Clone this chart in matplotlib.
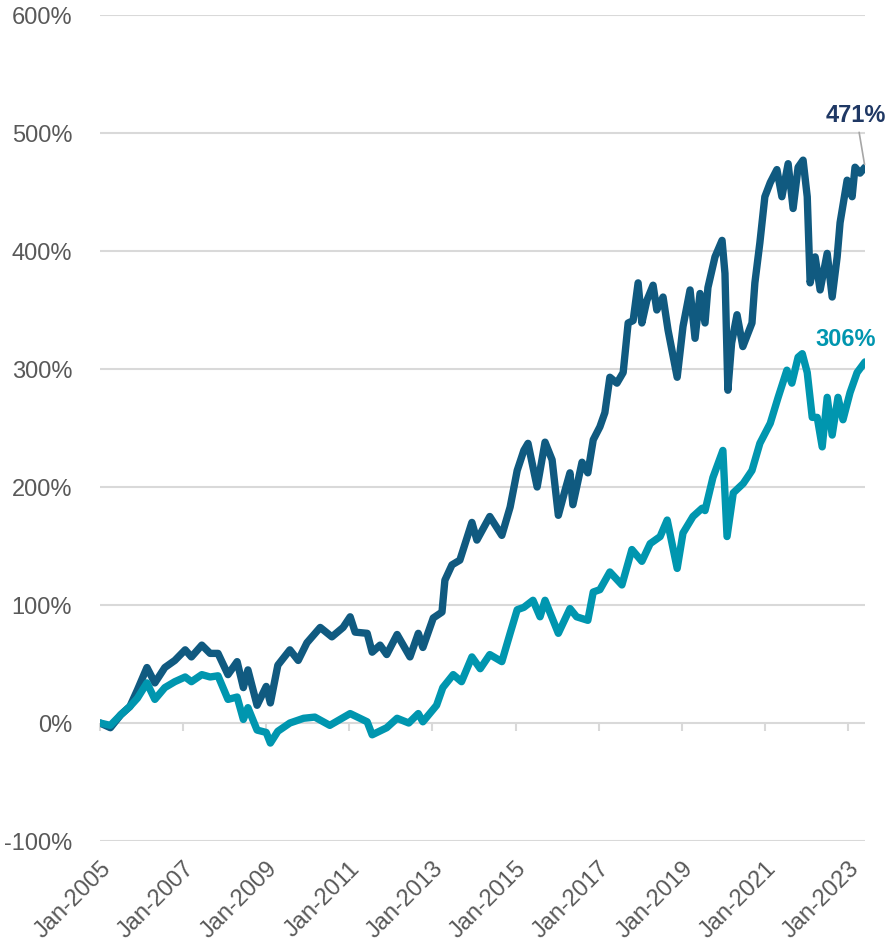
import matplotlib
matplotlib.use("Agg")
import matplotlib.pyplot as plt

# cumulative return (%), x in decimal years
years_a = [2005.0, 2005.25, 2005.5, 2005.72, 2005.9, 2006.13, 2006.32, 2006.56, 2006.8,
           2007.05, 2007.2, 2007.45, 2007.65, 2007.84, 2008.08, 2008.3, 2008.45, 2008.56,
           2008.78, 2009.0, 2009.1, 2009.28, 2009.57, 2009.77, 2009.98, 2010.3, 2010.58,
           2010.85, 2011.02, 2011.14, 2011.43, 2011.55, 2011.74, 2011.9, 2012.15, 2012.46,
           2012.66, 2012.77, 2013.02, 2013.23, 2013.3, 2013.47, 2013.66, 2013.95, 2014.07,
           2014.38, 2014.67, 2014.87, 2015.04, 2015.2, 2015.3, 2015.52, 2015.71, 2015.88,
           2016.03, 2016.19, 2016.31, 2016.38, 2016.6, 2016.74, 2016.87, 2017.03, 2017.15,
           2017.27, 2017.44, 2017.59, 2017.71, 2017.83, 2017.95, 2018.04, 2018.16, 2018.31,
           2018.4, 2018.55, 2018.67, 2018.89, 2019.03, 2019.2, 2019.32, 2019.44, 2019.56,
           2019.63, 2019.8, 2019.97, 2020.04, 2020.11, 2020.2, 2020.33, 2020.47, 2020.69,
           2020.76, 2020.88, 2021.0, 2021.13, 2021.29, 2021.41, 2021.56, 2021.68, 2021.8,
           2021.92, 2022.02, 2022.09, 2022.21, 2022.33, 2022.5, 2022.62, 2022.74, 2022.81,
           2022.98, 2023.1, 2023.17, 2023.29, 2023.41]
vals_a = [0, -4, 7, 14, 28, 47, 34, 47, 53,
          62, 56, 66, 59, 59, 41, 52, 30, 45,
          15, 31, 17, 49, 62, 53, 68, 81, 73,
          81, 90, 77, 76, 60, 66, 58, 75, 56,
          76, 64, 89, 94, 121, 134, 138, 170, 155,
          175, 159, 183, 214, 231, 237, 200, 238, 223,
          176, 197, 212, 185, 221, 212, 240, 251, 263,
          293, 288, 297, 339, 341, 373, 339, 358, 371,
          350, 361, 333, 293, 336, 367, 326, 364, 339,
          369, 395, 409, 381, 282, 322, 346, 319, 339,
          373, 407, 446, 458, 469, 446, 474, 436, 471,
          477, 446, 373, 395, 367, 398, 361, 395, 424,
          460, 446, 471, 466, 471]

years_b = [2005.0, 2005.25, 2005.5, 2005.72, 2005.9, 2006.13, 2006.32, 2006.56, 2006.8,
           2007.05, 2007.2, 2007.45, 2007.65, 2007.84, 2008.08, 2008.3, 2008.45, 2008.56,
           2008.78, 2009.0, 2009.1, 2009.28, 2009.57, 2009.9, 2010.17, 2010.53, 2011.02,
           2011.43, 2011.55, 2011.9, 2012.15, 2012.43, 2012.66, 2012.77, 2013.1, 2013.25,
           2013.5, 2013.7, 2013.95, 2014.15, 2014.38, 2014.67, 2014.87, 2015.04, 2015.2,
           2015.42, 2015.59, 2015.71, 2016.03, 2016.31, 2016.47, 2016.74, 2016.87, 2017.03,
           2017.27, 2017.56, 2017.8, 2018.04, 2018.24, 2018.48, 2018.65, 2018.89, 2019.03,
           2019.27, 2019.49, 2019.56, 2019.75, 2019.99, 2020.09, 2020.24, 2020.48, 2020.69,
           2020.88, 2021.13, 2021.32, 2021.53, 2021.65, 2021.8, 2021.9, 2022.02, 2022.14,
           2022.26, 2022.38, 2022.5, 2022.62, 2022.76, 2022.88, 2023.05, 2023.22, 2023.41]
vals_b = [0, -2, 7, 14, 21, 34, 20, 30, 35,
          39, 35, 41, 39, 40, 20, 22, 3, 13,
          -6, -8, -17, -7, 0, 4, 5, -2, 8,
          1, -10, -4, 4, 0, 8, 1, 15, 30,
          41, 35, 56, 46, 58, 52, 76, 96, 98,
          104, 90, 104, 76, 97, 90, 87, 111, 113,
          128, 117, 147, 137, 152, 158, 172, 131, 161,
          175, 182, 180, 208, 231, 158, 195, 203, 214,
          237, 254, 276, 299, 288, 310, 313, 297, 259,
          259, 234, 276, 244, 276, 257, 280, 297, 306]

tick_years = [2005, 2007, 2009, 2011, 2013, 2015, 2017, 2019, 2021, 2023]
tick_labels = ["Jan-" + str(y) for y in tick_years]
y_ticks = [-100, 0, 100, 200, 300, 400, 500, 600]

dark = "#105A80"
teal = "#0096AF"
grey_txt = "#595959"

plt.rcParams["font.family"] = ["Liberation Sans", "DejaVu Sans"]

fig = plt.figure(figsize=(8.89, 9.44), dpi=100)
ax = fig.add_axes([100 / 889, 1 - 841 / 944, 765 / 889, 826 / 944])

ax.plot(years_a, vals_a, color=dark, lw=5.3, solid_joinstyle="round", solid_capstyle="round", zorder=3)
ax.plot(years_b, vals_b, color=teal, lw=5.3, solid_joinstyle="round", solid_capstyle="round", zorder=4)

ax.set_xlim(2005.0, 2023.41)
ax.set_ylim(-100, 600)
ax.set_yticks(y_ticks)
ax.set_yticklabels([f"{v}%" for v in y_ticks])
ax.yaxis.grid(True, color="#D9D9D9", lw=1.5)
ax.set_axisbelow(True)
for s in ax.spines.values():
    s.set_visible(False)

ax.set_xticks(tick_years)
ax.set_xticklabels(tick_labels, rotation=45, ha="right", rotation_mode="anchor")
ax.tick_params(axis="x", length=0, pad=12, labelsize=17, labelcolor=grey_txt)
ax.tick_params(axis="y", length=0, pad=20, labelsize=17, labelcolor=grey_txt)

# tick marks sit on the 0% line
sec = ax.secondary_xaxis((0 - (-100)) / 700)
sec.set_xticks(tick_years)
sec.tick_params(axis="x", direction="out", length=6, width=1.5, color="#D9D9D9", labelbottom=False)
sec.spines["bottom"].set_visible(False)

ax.annotate(f"{vals_a[-1]}%", xy=(years_a[-1], vals_a[-1]), xytext=(2023.2, 515),
            textcoords="data", ha="center", va="center", fontsize=17, fontweight="bold",
            color="#1F3864", annotation_clip=False,
            arrowprops=dict(arrowstyle="-", color="#A6A6A6", lw=1.2, shrinkA=2, shrinkB=2))
ax.text(2022.95, 325, f"{vals_b[-1]}%", ha="center", va="center", fontsize=17,
        fontweight="bold", color=teal, clip_on=False)

fig.savefig("out.png", dpi=100)
